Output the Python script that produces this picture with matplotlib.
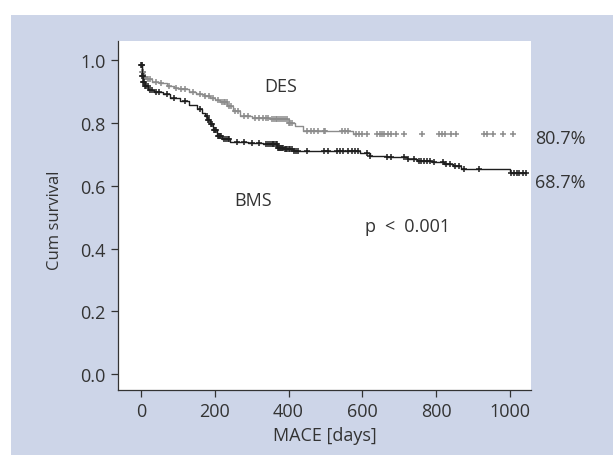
import numpy as np
import matplotlib.pyplot as plt
from matplotlib.patches import Rectangle

plt.rcParams['font.family'] = ['Open Sans', 'DejaVu Sans']

# Kaplan-Meier steps (time, survival)
des_t = [0, 3, 8, 15, 30, 50, 70, 90, 106, 130, 150, 170, 187, 200, 215, 233, 250, 269, 300, 350, 400, 418, 440, 576]
des_s = [0.983, 0.96, 0.945, 0.939, 0.93, 0.925, 0.918, 0.912, 0.907, 0.898, 0.892, 0.886, 0.88, 0.873,
         0.865, 0.854, 0.838, 0.822, 0.815, 0.811, 0.80, 0.79, 0.774, 0.764]
des_end = 580

bms_t = [0, 3, 6, 11, 20, 35, 60, 80, 106, 130, 151, 165, 174, 180, 187, 195, 206, 220, 242, 290, 332,
         369, 390, 413, 595, 622, 668, 722, 749, 790, 821, 845, 867, 912, 1000]
bms_s = [0.983, 0.95, 0.93, 0.917, 0.905, 0.897, 0.89, 0.88, 0.87, 0.858, 0.843, 0.832, 0.822, 0.81,
         0.795, 0.778, 0.758, 0.748, 0.74, 0.735, 0.732, 0.721, 0.715, 0.71, 0.705, 0.695, 0.692, 0.684,
         0.679, 0.674, 0.668, 0.661, 0.654, 0.652, 0.64]
bms_end = 1043

# censored cases
des_cens = [2, 4, 5, 7, 10, 12, 20, 25, 40, 55, 75, 95, 110, 120, 140, 160, 175, 185, 195, 210, 220, 225,
            228, 232, 240, 245, 255, 262, 280, 290, 310, 320, 330, 340, 345, 355, 360, 365, 370, 375, 380,
            385, 390, 395, 400, 405, 410, 450, 460, 470, 480, 495, 500, 546, 552, 562, 582, 590, 598, 614,
            641, 648, 652, 660, 670, 677, 690, 712, 763, 807, 816, 825, 840, 853, 929, 938, 954, 981, 1008]
bms_cens = [1, 2, 4, 5, 7, 9, 12, 15, 18, 25, 30, 40, 50, 70, 90, 120, 160, 178, 182, 185, 190, 192, 198,
            200, 203, 208, 212, 215, 218, 225, 230, 235, 240, 260, 280, 300, 320, 340, 345, 350, 355, 358,
            362, 365, 368, 372, 375, 378, 380, 383, 386, 390, 393, 396, 400, 405, 410, 415, 420, 427, 451,
            495, 508, 532, 540, 548, 560, 573, 580, 587, 614, 622, 668, 677, 712, 725, 739, 753, 760, 768,
            775, 782, 793, 818, 828, 838, 850, 862, 875, 916, 1003, 1010, 1018, 1025, 1035, 1043]


def surv_at(times, surv, t):
    idx = np.searchsorted(times, t, side='right') - 1
    return np.array(surv)[idx]


def main():
    fig = plt.figure(figsize=(6.13, 4.56), dpi=100, facecolor='white')
    fig.patches.append(Rectangle((11 / 613, 0), 1, 1 - 16 / 456, transform=fig.transFigure,
                                 facecolor='#cdd5e8', edgecolor='none', zorder=-10))
    ax = fig.add_axes([118 / 613, 1 - 391 / 456, (531 - 118) / 613, (391 - 42) / 456])
    ax.set_facecolor('white')

    for t, s, end, cens, col in [(des_t, des_s, des_end, des_cens, '#8c8c8c'),
                                 (bms_t, bms_s, bms_end, bms_cens, '#1e1e1e')]:
        ax.plot(list(t) + [end], list(s) + [s[-1]], drawstyle='steps-post', color=col, lw=1.0)
        ax.plot(cens, surv_at(t, s, cens), '+', color=col, markersize=5, markeredgewidth=1.1)

    ax.set_xlim(-62, 1057)
    ax.set_ylim(-0.05, 1.06)
    ax.set_xticks([0, 200, 400, 600, 800, 1000])
    ax.set_yticks([0.0, 0.2, 0.4, 0.6, 0.8, 1.0])
    ax.set_yticklabels(['0.0', '0.2', '0.4', '0.6', '0.8', '1.0'])
    for side in ['top', 'right']:
        ax.spines[side].set_visible(False)
    for side in ['left', 'bottom']:
        ax.spines[side].set_color('#333333')
        ax.spines[side].set_linewidth(0.9)
    ax.tick_params(length=5, width=0.9, color='#333333', labelsize=13, labelcolor='#333333', pad=4)
    ax.set_xlabel('MACE [days]', fontsize=13, color='#333333', labelpad=4)
    ax.set_ylabel('Cum survival', fontsize=12, color='#333333')
    ax.yaxis.set_label_coords(-0.133, 0.49)

    ax.text(380, 0.916, 'DES', fontsize=13, color='#333333', ha='center', va='center')
    ax.text(304, 0.554, 'BMS', fontsize=13, color='#333333', ha='center', va='center')
    ax.text(723, 0.471, 'p\u2002<\u20020.001', fontsize=13, color='#333333', ha='center', va='center')
    ax.text(1069, 0.751, '80.7%', fontsize=13, color='#333333', ha='left', va='center', clip_on=False)
    ax.text(1069, 0.611, '68.7%', fontsize=13, color='#333333', ha='left', va='center', clip_on=False)

    fig.savefig('out.png', dpi=100, facecolor=fig.get_facecolor())


if __name__ == "__main__":
    main()
